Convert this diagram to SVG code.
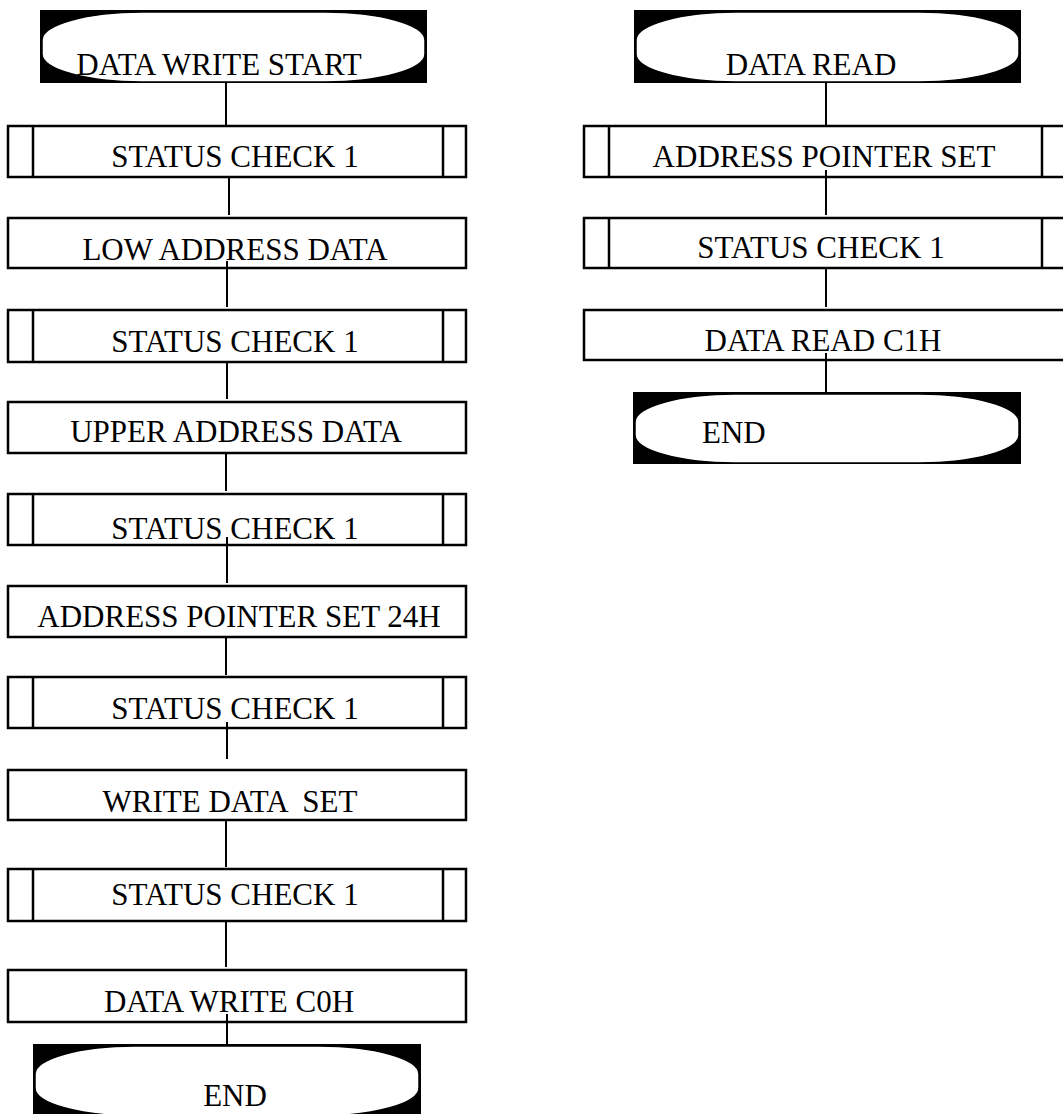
<svg xmlns="http://www.w3.org/2000/svg" width="1063" height="1114" viewBox="0 0 1063 1114">
<style>
  .box { fill: #fff; stroke: #000; stroke-width: 2.5; }
  .inner { stroke: #000; stroke-width: 2.5; }
  .term-bg { fill: #000; }
  .term { fill: #fff; stroke: #000; stroke-width: 1.5; }
  .conn { stroke: #000; stroke-width: 2; fill: none; }
  text { font-family: "Liberation Serif", "Times New Roman", serif; font-size: 31px; fill: #000; }
  .c { text-anchor: middle; }
</style>
<rect width="1063" height="1114" fill="#fff"/>

<!-- Left column -->
<g id="n-start">
  <rect class="term-bg" x="40" y="10" width="387" height="73"/>
  <rect class="term" x="42" y="12" width="383" height="70" rx="100" ry="28"/>
  <text class="c" x="219" y="75">DATA WRITE START</text>
</g>
<g id="n-sc1">
  <rect class="box" x="8" y="126" width="458" height="51"/>
  <line class="inner" x1="33" y1="126" x2="33" y2="177"/>
  <line class="inner" x1="443" y1="126" x2="443" y2="177"/>
  <text class="c" x="235" y="167">STATUS CHECK 1</text>
</g>
<g id="n-low">
  <rect class="box" x="8" y="218" width="458" height="50"/>
  <text class="c" x="235" y="260">LOW ADDRESS DATA</text>
</g>
<g id="n-sc2">
  <rect class="box" x="8" y="310" width="458" height="52"/>
  <line class="inner" x1="33" y1="310" x2="33" y2="362"/>
  <line class="inner" x1="443" y1="310" x2="443" y2="362"/>
  <text class="c" x="235" y="352">STATUS CHECK 1</text>
</g>
<g id="n-upper">
  <rect class="box" x="8" y="402" width="458" height="51"/>
  <text class="c" x="236" y="442">UPPER ADDRESS DATA</text>
</g>
<g id="n-sc3">
  <rect class="box" x="8" y="494" width="458" height="51"/>
  <line class="inner" x1="33" y1="494" x2="33" y2="545"/>
  <line class="inner" x1="443" y1="494" x2="443" y2="545"/>
  <text class="c" x="235" y="539">STATUS CHECK 1</text>
</g>
<g id="n-aps24">
  <rect class="box" x="8" y="586" width="458" height="51"/>
  <text class="c" x="239" y="627">ADDRESS POINTER SET 24H</text>
</g>
<g id="n-sc4">
  <rect class="box" x="8" y="677" width="458" height="51"/>
  <line class="inner" x1="33" y1="677" x2="33" y2="728"/>
  <line class="inner" x1="443" y1="677" x2="443" y2="728"/>
  <text class="c" x="235" y="719">STATUS CHECK 1</text>
</g>
<g id="n-wds">
  <rect class="box" x="8" y="770" width="458" height="50"/>
  <text class="c" x="230" y="812" xml:space="preserve">WRITE DATA  SET</text>
</g>
<g id="n-sc5">
  <rect class="box" x="8" y="869" width="458" height="52"/>
  <line class="inner" x1="33" y1="869" x2="33" y2="921"/>
  <line class="inner" x1="443" y1="869" x2="443" y2="921"/>
  <text class="c" x="235" y="905">STATUS CHECK 1</text>
</g>
<g id="n-dwc0">
  <rect class="box" x="8" y="970" width="458" height="52"/>
  <text class="c" x="229" y="1012">DATA WRITE C0H</text>
</g>
<g id="n-end1">
  <rect class="term-bg" x="33" y="1044" width="388" height="73"/>
  <rect class="term" x="35" y="1046" width="384" height="70" rx="100" ry="28"/>
  <text class="c" x="235" y="1106">END</text>
</g>

<!-- Right column -->
<g id="n-read">
  <rect class="term-bg" x="634" y="10" width="387" height="73"/>
  <rect class="term" x="636" y="12" width="383" height="70" rx="100" ry="28"/>
  <text class="c" x="811" y="75">DATA READ</text>
</g>
<g id="n-aps">
  <rect class="box" x="584" y="126" width="484" height="51"/>
  <line class="inner" x1="609" y1="126" x2="609" y2="177"/>
  <line class="inner" x1="1042" y1="126" x2="1042" y2="177"/>
  <text class="c" x="824" y="167">ADDRESS POINTER SET</text>
</g>
<g id="n-sc-r">
  <rect class="box" x="584" y="218" width="484" height="50"/>
  <line class="inner" x1="609" y1="218" x2="609" y2="268"/>
  <line class="inner" x1="1042" y1="218" x2="1042" y2="268"/>
  <text class="c" x="821" y="258">STATUS CHECK 1</text>
</g>
<g id="n-drc1">
  <rect class="box" x="584" y="310" width="484" height="50"/>
  <text class="c" x="823" y="351">DATA READ C1H</text>
</g>
<g id="n-end2">
  <rect class="term-bg" x="633" y="392" width="388" height="72"/>
  <rect class="term" x="635" y="394" width="384" height="69" rx="100" ry="28"/>
  <text x="702" y="443">END</text>
</g>

<!-- Connectors -->
<g id="connectors">
  <line class="conn" x1="226" y1="83" x2="226" y2="127"/>
  <line class="conn" x1="229" y1="177" x2="229" y2="215"/>
  <line class="conn" x1="227" y1="261" x2="227" y2="307"/>
  <line class="conn" x1="227" y1="362" x2="227" y2="399"/>
  <line class="conn" x1="226" y1="453" x2="226" y2="491"/>
  <line class="conn" x1="227" y1="537" x2="227" y2="583"/>
  <line class="conn" x1="226" y1="637" x2="226" y2="675"/>
  <line class="conn" x1="227" y1="722" x2="227" y2="759"/>
  <line class="conn" x1="226" y1="820" x2="226" y2="867"/>
  <line class="conn" x1="226" y1="921" x2="226" y2="967"/>
  <line class="conn" x1="227" y1="1014" x2="227" y2="1044"/>
  <line class="conn" x1="826" y1="83" x2="826" y2="127"/>
  <line class="conn" x1="826" y1="170" x2="826" y2="215"/>
  <line class="conn" x1="826" y1="268" x2="826" y2="307"/>
  <line class="conn" x1="826" y1="353" x2="826" y2="392"/>
</g>
</svg>
